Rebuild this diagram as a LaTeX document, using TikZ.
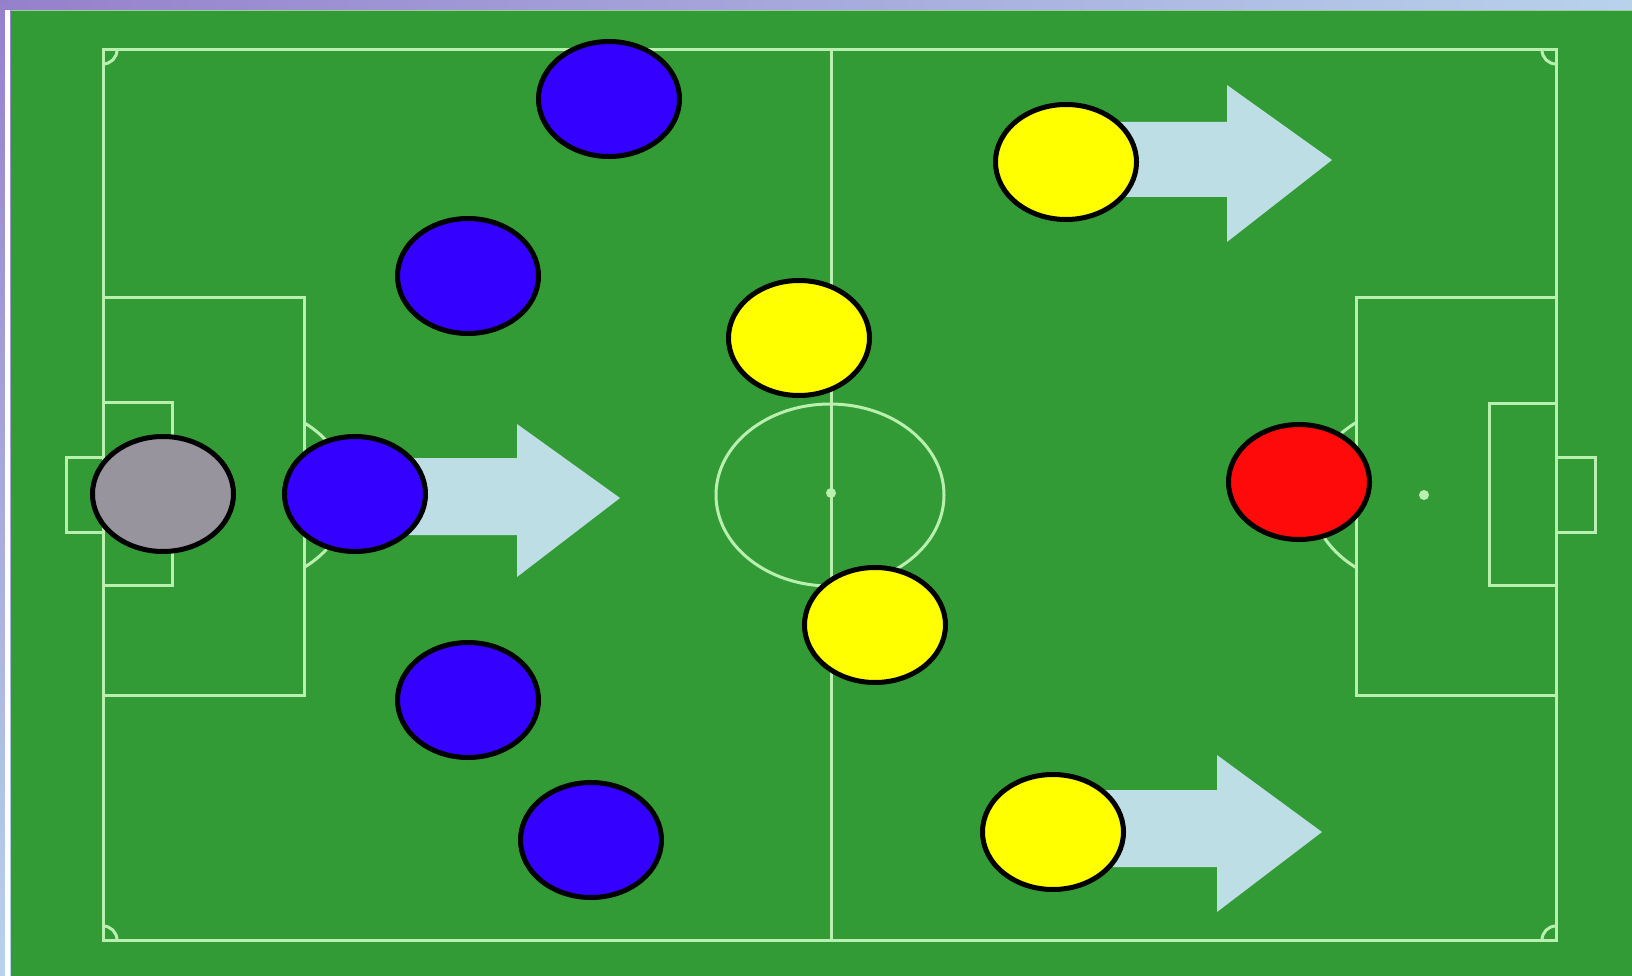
\documentclass[tikz,border=0pt]{standalone}
\usetikzlibrary{shapes.geometric}
\definecolor{pitch}{RGB}{51,155,53}
\definecolor{chalk}{RGB}{185,240,175}
\definecolor{arrowfill}{RGB}{190,222,230}
\definecolor{bluep}{RGB}{52,0,255}
\definecolor{greyp}{RGB}{152,148,158}
\definecolor{yellowp}{RGB}{255,255,0}
\definecolor{redp}{RGB}{255,10,10}
\definecolor{purplebg}{RGB}{150,128,204}
\definecolor{lightbg}{RGB}{184,210,236}
\tikzset{
  line/.style={draw=chalk,line width=3pt},
  player/.style={ellipse,draw=black,line width=5pt,minimum width=141pt,minimum height=115pt,inner sep=0pt},
  blockarrow/.style={fill=arrowfill,draw=none},
}
\begin{document}
\begin{tikzpicture}[x=1pt,y=-1pt]
\useasboundingbox (0,0) rectangle (1632,976);
% background frame
\shade[left color=purplebg,right color=lightbg] (0,0) rectangle (1632,12);
\shade[top color=purplebg,bottom color=lightbg] (0,0) rectangle (12,976);
\fill[white] (5,10) rectangle (10,976);
\fill[pitch] (11,10) rectangle (1632,976);
\draw[white,opacity=0.5,line width=1.5pt] (11,10.5) -- (1632,10.5);
% pitch lines
\draw[line] (103,50) rectangle (1556,940);
\draw[line] (831,50) -- (831,940);
\draw[line] (830,495) ellipse[x radius=114pt,y radius=91pt];
\fill[chalk] (831,493) circle[radius=5pt];
% left end
\draw[line] (103,297) -- (304,297) -- (304,695) -- (103,695);
\draw[line] (103,402) -- (172,402) -- (172,585) -- (103,585);
\draw[line] (103,457) -- (66,457) -- (66,532) -- (103,532);
\draw[line] (304,422.6) arc[start angle=52.77,end angle=-52.77,x radius=114pt,y radius=91pt];
% right end
\draw[line] (1556,297) -- (1356,297) -- (1356,695) -- (1556,695);
\draw[line] (1556,403) -- (1489,403) -- (1489,585) -- (1556,585);
\draw[line] (1556,457) -- (1595,457) -- (1595,532) -- (1556,532);
\draw[line] (1356,422.6) arc[start angle=127.23,end angle=232.77,x radius=114pt,y radius=91pt];
\fill[chalk] (1424,495) circle[radius=5pt];
% corner arcs
\draw[line] (103,64) arc[start angle=270,end angle=360,radius=14pt];
\draw[line] (1542,50) arc[start angle=180,end angle=270,radius=14pt];
\draw[line] (103,926) arc[start angle=90,end angle=0,radius=14pt];
\draw[line] (1542,940) arc[start angle=180,end angle=90,radius=14pt];
% block arrows
\fill[blockarrow] (400,458) -- (517,458) -- (517,424) -- (620,498) -- (517,577) -- (517,535) -- (400,535) -- cycle;
\fill[blockarrow] (1110,122) -- (1227,122) -- (1227,85) -- (1332,160) -- (1227,242) -- (1227,197) -- (1110,197) -- cycle;
\fill[blockarrow] (1100,790) -- (1217,790) -- (1217,755) -- (1322,832) -- (1217,912) -- (1217,867) -- (1100,867) -- cycle;
% players
\node[player,fill=greyp] (gk) at (163,494) {};
\node[player,fill=bluep] (b1) at (609,99) {};
\node[player,fill=bluep] (b2) at (468,276) {};
\node[player,fill=bluep] (b3) at (355,494) {};
\node[player,fill=bluep] (b4) at (468,700) {};
\node[player,fill=bluep] (b5) at (591,840) {};
\node[player,fill=yellowp] (y1) at (1066,162) {};
\node[player,fill=yellowp] (y2) at (799,338) {};
\node[player,fill=yellowp] (y3) at (875,625) {};
\node[player,fill=yellowp] (y4) at (1053,832) {};
\node[player,fill=redp] (r1) at (1299,482) {};
\end{tikzpicture}
\end{document}
